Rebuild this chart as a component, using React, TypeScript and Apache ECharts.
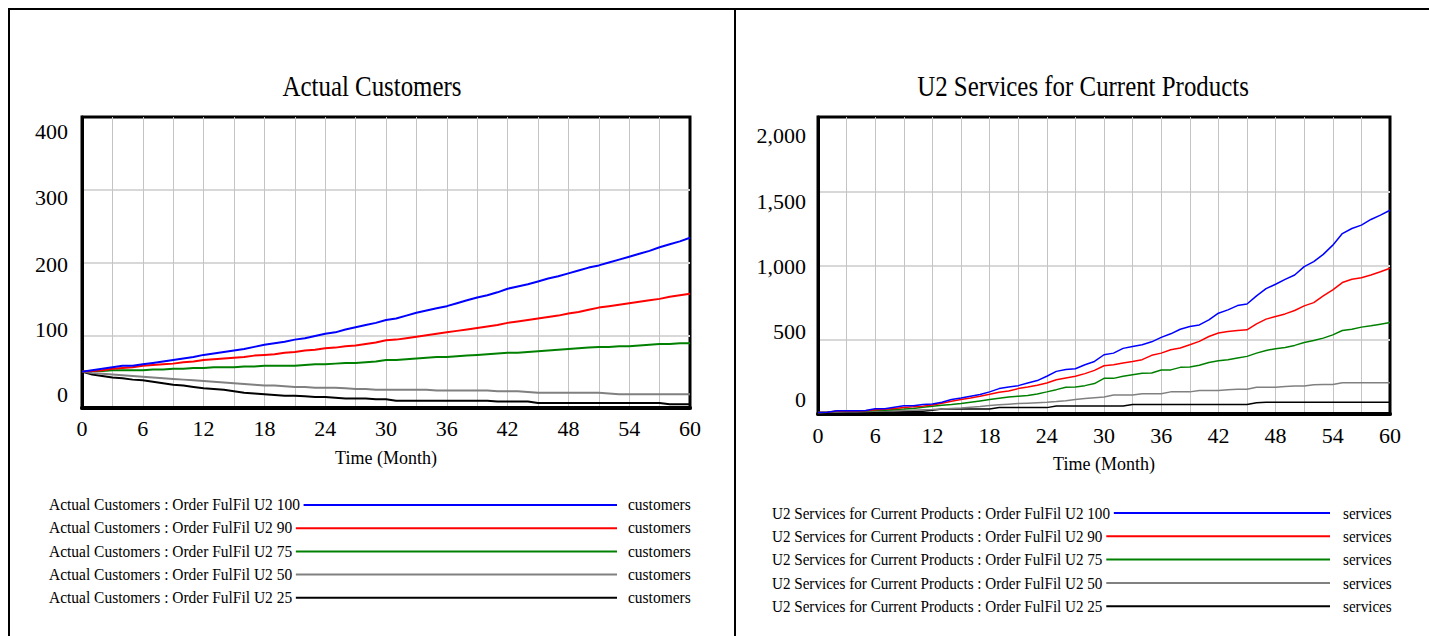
import React, { useEffect, useRef } from "react";
import * as echarts from "echarts";

const FONT = '"Liberation Serif", "Times New Roman", serif';

const SCENARIOS = [
  "Order FulFil U2 100",
  "Order FulFil U2 90",
  "Order FulFil U2 75",
  "Order FulFil U2 50",
  "Order FulFil U2 25",
];
const COLORS = ["#0000ff", "#ff0000", "#008000", "#808080", "#000000"];

const LEFT_TITLE = "Actual Customers";
const RIGHT_TITLE = "U2 Services for Current Products";
const LEFT_UNIT = "customers";
const RIGHT_UNIT = "services";
const X_NAME = "Time (Month)";

const LEFT_Y_TICKS = [0, 100, 200, 300, 400];
const RIGHT_Y_TICKS = [0, 500, 1000, 1500, 2000];

// Actual Customers (months 0..60)
const CUST_100 = [50, 52, 54, 56, 58, 58, 60, 62, 64, 66, 68, 70, 73, 75, 77, 79, 81, 84, 87, 89, 91, 94, 96, 99, 102, 104, 108, 111, 114, 117, 121, 123, 127, 131, 134, 137, 140, 144, 148, 152, 155, 159, 164, 167, 170, 174, 178, 181, 185, 189, 193, 196, 200, 204, 208, 212, 216, 221, 225, 229, 234];
const CUST_90 = [50, 51, 52, 54, 55, 56, 58, 59, 60, 61, 63, 64, 66, 67, 68, 69, 70, 72, 73, 74, 76, 77, 79, 80, 82, 83, 85, 86, 88, 90, 93, 94, 96, 98, 100, 102, 104, 106, 108, 110, 112, 114, 117, 119, 121, 123, 125, 127, 130, 132, 135, 138, 140, 142, 144, 146, 148, 150, 153, 155, 157];
const CUST_75 = [50, 51, 51, 52, 52, 52, 52, 53, 53, 54, 54, 55, 55, 56, 56, 56, 57, 57, 58, 58, 58, 58, 59, 60, 60, 61, 62, 62, 63, 64, 66, 66, 67, 68, 69, 70, 70, 71, 72, 73, 74, 75, 76, 76, 77, 78, 79, 80, 81, 82, 83, 84, 84, 85, 85, 86, 87, 88, 88, 89, 89];
const CUST_50 = [50, 48, 47, 46, 45, 44, 43, 42, 41, 40, 39, 38, 37, 36, 35, 34, 33, 32, 31, 31, 30, 29, 29, 28, 28, 28, 27, 26, 26, 25, 25, 25, 25, 25, 25, 24, 24, 24, 24, 24, 24, 23, 23, 23, 22, 21, 21, 21, 21, 21, 21, 21, 20, 19, 19, 19, 19, 19, 19, 19, 19];
const CUST_25 = [50, 46, 44, 42, 41, 39, 38, 36, 34, 32, 31, 29, 27, 26, 25, 23, 21, 20, 19, 18, 17, 17, 16, 15, 15, 14, 13, 13, 13, 12, 12, 10, 10, 10, 10, 10, 10, 10, 10, 10, 10, 9, 9, 9, 9, 7, 7, 7, 7, 7, 7, 7, 7, 7, 7, 7, 7, 7, 5, 5, 5];

// U2 Services for Current Products (months 0..60)
const SERV_100 = [10, 12, 22, 22, 22, 23, 35, 36, 46, 55, 56, 64, 68, 79, 97, 108, 120, 131, 149, 171, 182, 191, 209, 225, 254, 287, 299, 305, 332, 354, 399, 410, 442, 455, 466, 486, 516, 540, 571, 589, 600, 634, 679, 701, 730, 741, 795, 844, 874, 907, 936, 992, 1026, 1075, 1137, 1215, 1249, 1272, 1310, 1339, 1372];
const SERV_90 = [10, 12, 20, 21, 21, 22, 28, 32, 37, 44, 48, 53, 61, 73, 86, 97, 108, 120, 133, 147, 155, 171, 182, 194, 209, 231, 243, 254, 272, 294, 325, 332, 343, 354, 366, 395, 410, 433, 444, 466, 489, 522, 545, 556, 563, 567, 607, 639, 657, 674, 697, 728, 750, 795, 836, 885, 907, 918, 936, 958, 981];
const SERV_75 = [10, 12, 18, 19, 19, 20, 23, 26, 30, 33, 37, 46, 53, 59, 64, 70, 79, 88, 97, 106, 115, 120, 124, 135, 149, 164, 180, 182, 191, 205, 240, 240, 254, 265, 274, 276, 296, 297, 314, 316, 328, 347, 359, 366, 377, 388, 410, 428, 440, 448, 462, 482, 495, 511, 533, 562, 571, 585, 594, 605, 616];
const SERV_50 = [10, 11, 14, 15, 15, 16, 19, 20, 21, 23, 25, 28, 30, 33, 37, 41, 46, 51, 57, 62, 66, 70, 73, 76, 79, 84, 90, 97, 104, 110, 115, 128, 128, 128, 137, 137, 137, 149, 149, 149, 158, 158, 158, 164, 166, 166, 180, 180, 180, 186, 188, 188, 197, 199, 199, 211, 211, 211, 211, 211, 211];
const SERV_25 = [10, 11, 14, 14, 14, 14, 18, 18, 18, 18, 18, 18, 26, 34, 34, 34, 34, 34, 34, 43, 43, 43, 43, 43, 43, 54, 54, 54, 54, 54, 54, 54, 54, 64, 64, 64, 64, 64, 64, 64, 64, 64, 64, 64, 64, 64, 75, 79, 79, 79, 79, 79, 79, 79, 79, 79, 79, 79, 79, 79, 79];

const CUSTOMERS = [CUST_100, CUST_90, CUST_75, CUST_50, CUST_25];
const SERVICES = [SERV_100, SERV_90, SERV_75, SERV_50, SERV_25];

// label vertical offsets (style)
const LEFT_LABEL_SHIFT: Record<number, number> = { 0: -14, 100: -6, 200: 1.5, 300: 8, 400: 14.5 };
const RIGHT_LABEL_SHIFT: Record<number, number> = { 0: -15, 500: -8, 1000: 1, 1500: 10, 2000: 18 };

function fmtNum(v: number) {
  return v.toLocaleString("en-US");
}

function richFor(ticks: number[], shifts: Record<number, number>) {
  const rich: Record<string, any> = {};
  ticks.forEach((t) => {
    const d = shifts[t] || 0;
    rich["t" + t] = {
      fontFamily: FONT,
      fontSize: 22,
      color: "#000",
      padding: d >= 0 ? [2 * d, 0, 0, 0] : [0, 0, -2 * d, 0],
    };
  });
  return rich;
}

export default function App() {
  const ref = useRef<HTMLDivElement>(null);

  useEffect(() => {
    if (!ref.current) return;
    const chart = echarts.init(ref.current, undefined, { renderer: "svg" });

    const xAxisBase = (gridIndex: number, margin: number) => ({
      gridIndex,
      type: "value",
      min: 0,
      max: 60,
      interval: 3,
      axisLine: { show: true, lineStyle: { color: "#000", width: 4 } },
      axisTick: { show: false },
      splitLine: {
        show: true,
        showMinLine: false,
        showMaxLine: false,
        lineStyle: { color: "#c4c4c4", width: 1 },
      },
      axisLabel: {
        formatter: (v: number) => (v % 6 === 0 ? String(v) : ""),
        fontFamily: FONT,
        fontSize: 22,
        color: "#000",
        margin,
      },
      name: X_NAME,
      nameLocation: "middle",
      nameGap: 41,
      nameTextStyle: { fontFamily: FONT, fontSize: 18, color: "#000" },
    });

    const yAxisBase = (
      gridIndex: number,
      max: number,
      interval: number,
      ticks: number[],
      shifts: Record<number, number>,
      margin: number
    ) => ({
      gridIndex,
      type: "value",
      min: 0,
      max,
      interval,
      axisLine: { show: true, lineStyle: { color: "#000", width: 3 } },
      axisTick: { show: false },
      splitLine: {
        show: true,
        showMinLine: false,
        showMaxLine: false,
        lineStyle: { color: "#d8d8d8", width: 2 },
      },
      axisLabel: {
        margin,
        fontFamily: FONT,
        fontSize: 22,
        color: "#000",
        formatter: (v: number) => `{t${v}|${fmtNum(v)}}`,
        rich: richFor(ticks, shifts),
      },
    });

    const series: any[] = [];
    CUSTOMERS.forEach((vals, i) => {
      series.push({
        name: `${LEFT_TITLE} : ${SCENARIOS[i]}`,
        type: "line",
        xAxisIndex: 0,
        yAxisIndex: 0,
        showSymbol: false,
        data: vals.map((v, m) => [m, v]),
        lineStyle: { color: COLORS[i], width: 2 },
        itemStyle: { color: COLORS[i] },
        z: 10 - i,
      });
    });
    SERVICES.forEach((vals, i) => {
      series.push({
        name: `${RIGHT_TITLE} : ${SCENARIOS[i]}`,
        type: "line",
        xAxisIndex: 1,
        yAxisIndex: 1,
        showSymbol: false,
        data: vals.map((v, m) => [m, v]),
        lineStyle: { color: COLORS[i], width: 1.5 },
        itemStyle: { color: COLORS[i] },
        z: 10 - i,
      });
    });

    const graphics: any[] = [
      {
        type: "rect",
        shape: { x: 9, y: 9, width: 1440, height: 660 },
        style: { fill: "none", stroke: "#000", lineWidth: 2 },
        z: 50,
      },
      {
        type: "line",
        shape: { x1: 735, y1: 9, x2: 735, y2: 660 },
        style: { stroke: "#000", lineWidth: 2 },
        z: 50,
      },
      {
        type: "text",
        x: 372,
        y: 86,
        scaleX: 0.83,
        z: 50,
        style: {
          text: LEFT_TITLE,
          fontFamily: FONT,
          fontSize: 30,
          fill: "#000",
          align: "center",
          verticalAlign: "middle",
          textAlign: "center",
          textVerticalAlign: "middle",
        },
      },
      {
        type: "text",
        x: 1083,
        y: 86,
        scaleX: 0.83,
        z: 50,
        style: {
          text: RIGHT_TITLE,
          fontFamily: FONT,
          fontSize: 30,
          fill: "#000",
          align: "center",
          verticalAlign: "middle",
          textAlign: "center",
          textVerticalAlign: "middle",
        },
      },
    ];

    const legendRows = (
      title: string,
      unit: string,
      x0: number,
      y0: number,
      dy: number,
      lineFrom: number,
      lineTo: number,
      unitX: number,
      scale: number
    ) => {
      SCENARIOS.forEach((s, i) => {
        const y = y0 + i * dy;
        graphics.push({
          type: "line",
          shape: { x1: lineFrom, y1: y, x2: lineTo, y2: y },
          style: { stroke: COLORS[i], lineWidth: 2 },
          z: 40,
        });
        graphics.push({
          type: "text",
          x: x0,
          y,
          scaleX: scale,
          z: 45,
          style: {
            text: `${title} : ${s}`,
            fontFamily: FONT,
            fontSize: 17,
            fill: "#000",
            backgroundColor: "#fff",
            padding: [0, 4, 0, 0],
            verticalAlign: "middle",
            textVerticalAlign: "middle",
          },
        });
        graphics.push({
          type: "text",
          x: unitX,
          y,
          scaleX: scale,
          z: 45,
          style: {
            text: unit,
            fontFamily: FONT,
            fontSize: 17,
            fill: "#000",
            verticalAlign: "middle",
            textVerticalAlign: "middle",
          },
        });
      });
    };
    legendRows(LEFT_TITLE, LEFT_UNIT, 49, 505, 23.2, 200, 617, 628, 0.91);
    legendRows(RIGHT_TITLE, RIGHT_UNIT, 772, 513, 23.3, 1000, 1330, 1343, 0.89);

    chart.setOption({
      animation: false,
      backgroundColor: "#fff",
      grid: [
        { left: 82, top: 117, width: 608, height: 291, show: true, borderColor: "#000", borderWidth: 3, backgroundColor: "#fff" },
        { left: 818, top: 117, width: 572, height: 297, show: true, borderColor: "#000", borderWidth: 3, backgroundColor: "#fff" },
      ],
      xAxis: [xAxisBase(0, 9), xAxisBase(1, 10)],
      yAxis: [
        yAxisBase(0, 400, 100, LEFT_Y_TICKS, LEFT_LABEL_SHIFT, 14),
        yAxisBase(1, 2000, 500, RIGHT_Y_TICKS, RIGHT_LABEL_SHIFT, 12),
      ],
      series,
      graphic: graphics,
    });

    return () => chart.dispose();
  }, []);

  return (
    <div
      ref={ref}
      style={{ position: "absolute", left: 0, top: 0, width: 1429, height: 636, background: "#fff" }}
    />
  );
}
